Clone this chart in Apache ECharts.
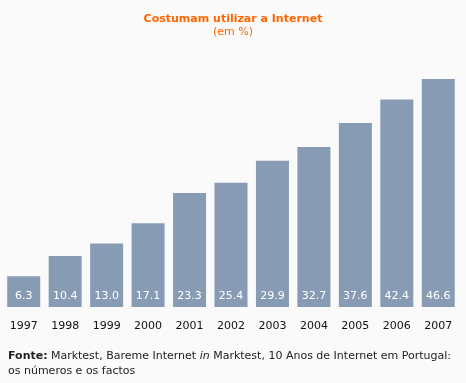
<!DOCTYPE html>
<html><head><meta charset="utf-8">
<script src="https://cdn.jsdelivr.net/npm/echarts@6/dist/echarts.min.js"></script>
<style>html,body{margin:0;padding:0;background:#fafafa}#c{width:466px;height:383px}</style>
</head><body><div id="c"></div>
<script>
const years = ['1997','1998','1999','2000','2001','2002','2003','2004','2005','2006','2007'];
const values = [6.3, 10.4, 13.0, 17.1, 23.3, 25.4, 29.9, 32.7, 37.6, 42.4, 46.6];
const titleText = 'Costumam utilizar a Internet';
const subtitleText = '(em %)';

const chart = echarts.init(document.getElementById('c'));
chart.setOption({
  backgroundColor: '#fafafa',
  animation: false,
  title: {
    text: titleText, subtext: subtitleText, left: 'center', top: 9, itemGap: 2,
    textStyle: {color: '#ff6600', fontFamily: 'DejaVu Sans', fontSize: 11, fontWeight: 'bold'},
    subtextStyle: {color: '#ff6600', fontFamily: 'DejaVu Sans', fontSize: 11}
  },
  grid: {left: 3, right: 7, top: 79, bottom: 76},
  xAxis: {
    type: 'category', data: years,
    axisLine: {show: false}, axisTick: {show: false},
    axisLabel: {color: '#111', fontFamily: 'DejaVu Sans', fontSize: 11, margin: 14}
  },
  yAxis: {type: 'value', min: 0, max: 46.6, show: false, splitLine: {show: false}},
  series: [{
    type: 'bar', data: values, barWidth: 33,
    itemStyle: {color: '#879cb4'},
    label: {show: true, position: 'insideBottom', distance: 5, color: '#fff',
      fontFamily: 'DejaVu Sans', fontSize: 11,
      formatter: p => p.value.toFixed(1)}
  }],
  graphic: [{
    type: 'text', left: 8, top: 350,
    style: {
      rich: {
        b: {fontWeight: 'bold', fontFamily: 'DejaVu Sans', fontSize: 11, fill: '#222', lineHeight: 15},
        n: {fontFamily: 'DejaVu Sans', fontSize: 11, fill: '#222', lineHeight: 15},
        i: {fontStyle: 'italic', fontFamily: 'DejaVu Sans', fontSize: 11, fill: '#222', lineHeight: 15}
      },
      text: '{b|Fonte:} {n|Marktest, Bareme Internet }{i|in}{n| Marktest, 10 Anos de Internet em Portugal:}\n{n|os números e os factos}'
    }
  }]
});
</script></body></html>
